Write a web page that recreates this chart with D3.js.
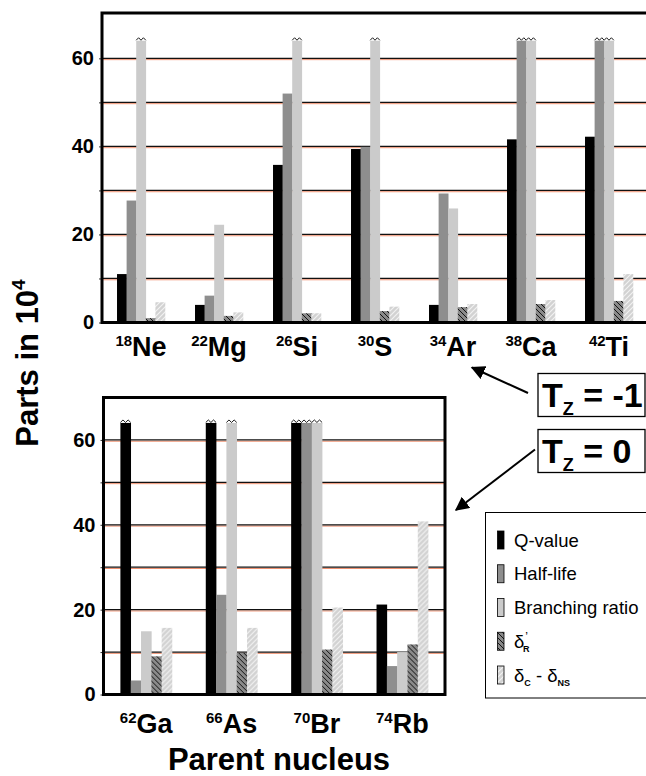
<!DOCTYPE html>
<html>
<head>
<meta charset="utf-8">
<script src="https://cdn.jsdelivr.net/npm/d3@7"></script>
<style>
body{margin:0;background:#fff;}
text{font-family:"Liberation Sans",Arial,Helvetica,sans-serif;}
</style>
</head>
<body>
<div id="chart"></div>
<script>
const WIDTH = 646;
const HEIGHT = 776;

// bars above the axis break are drawn cut off with a jagged top
const OFF = 99;
const BREAK = 64;

const seriesKeys = ["q","hl","br","dr","dc"];
const seriesColors = ["#000000","#8e8e8e","#cbcbcb","url(#hatchR)","url(#hatchC)"];

const topMass = ["18","22","26","30","34","38","42"];
const topElements = ["Ne","Mg","Si","S","Ar","Ca","Ti"];
const topQ  = [11.0, 4.0, 35.8, 39.4, 4.0, 41.6, 42.2];
const topHL = [27.7, 6.1, 52.0, 39.9, 29.3, OFF, OFF];
const topBR = [OFF, 22.2, OFF, OFF, 25.9, OFF, OFF];
const topDR = [1.0, 1.5, 2.1, 2.6, 3.5, 4.2, 4.9];
const topDC = [4.6, 2.3, 2.1, 3.6, 4.2, 5.1, 11.0];

const bottomMass = ["62","66","70","74"];
const bottomElements = ["Ga","As","Br","Rb"];
const bottomQ  = [OFF, OFF, OFF, 21.2];
const bottomHL = [3.3, 23.5, OFF, 6.7];
const bottomBR = [14.9, OFF, OFF, 10.0];
const bottomDR = [9.0, 9.8, 10.6, 11.8];
const bottomDC = [15.7, 15.7, 20.5, 40.8];

const yTicks = [0,10,20,30,40,50,60];
const yLabels = [0,20,40,60];

function setup(){
    let svg = d3.select("#chart")
        .append("svg")
        .attr("width",WIDTH)
        .attr("height",HEIGHT);

    let defs = svg.append("defs");
    let pr = defs.append("pattern")
        .attr("id","hatchR")
        .attr("patternUnits","userSpaceOnUse")
        .attr("width",5).attr("height",5);
    pr.append("rect").attr("width",5).attr("height",5).attr("fill","#8a8a8a");
    pr.append("path")
        .attr("d","M0,0L5,5M-1,4L1,6M4,-1L6,1")
        .attr("stroke","#111").attr("stroke-width",1);
    let pc = defs.append("pattern")
        .attr("id","hatchC")
        .attr("patternUnits","userSpaceOnUse")
        .attr("width",5).attr("height",5);
    pc.append("rect").attr("width",5).attr("height",5).attr("fill","#d2d2d2");
    pc.append("path")
        .attr("d","M0,5L5,0M-1,1L1,-1M4,6L6,4")
        .attr("stroke","#f2f2f2").attr("stroke-width",1.2);
    defs.append("marker")
        .attr("id","arrow")
        .attr("viewBox","0 0 10 10")
        .attr("refX",9).attr("refY",5)
        .attr("markerWidth",7).attr("markerHeight",7)
        .attr("markerUnits","strokeWidth")
        .attr("orient","auto")
        .append("path")
        .attr("d","M0,0L10,5L0,10z")
        .attr("fill","#000");

    main(svg);
}

function drawPanel(svg,box,yMax,mass,elements,rows,labelY){
    let data = mass.map((m,i)=>{
        let d = {id:m+elements[i],mass:m,el:elements[i]};
        seriesKeys.forEach((k,j)=>{ d[k] = rows[j][i]; });
        return d;
    });

    let x = d3.scaleBand()
        .domain(data.map(d=>d.id))
        .range([box.left,box.right])
        .paddingInner(box.pad)
        .paddingOuter(box.pad/2);
    let xs = d3.scaleBand()
        .domain(seriesKeys)
        .range([0,x.bandwidth()]);
    let y = d3.scaleLinear()
        .domain([0,yMax])
        .range([box.bottom,box.top]);

    let g = svg.append("g");

    // grid lines with the reddish shadow of the original print
    let grid = g.append("g");
    grid.selectAll(".gs")
        .data(yTicks.slice(1))
        .enter()
        .append("line")
        .attr("x1",box.left).attr("x2",box.right)
        .attr("y1",d=>y(d)+1.3).attr("y2",d=>y(d)+1.3)
        .attr("stroke","#ee9070").attr("stroke-width",1);
    grid.selectAll(".gl")
        .data(yTicks.slice(1))
        .enter()
        .append("line")
        .attr("x1",box.left).attr("x2",box.right)
        .attr("y1",d=>y(d)).attr("y2",d=>y(d))
        .attr("stroke","#111").attr("stroke-width",1.2);

    let groups = g.selectAll(".grp")
        .data(data)
        .enter()
        .append("g")
        .attr("transform",d=>`translate(${x(d.id)},0)`);

    seriesKeys.forEach((k,j)=>{
        groups.append("rect")
            .attr("x",xs(k))
            .attr("width",xs.bandwidth()+0.3)
            .attr("y",d=>y(Math.min(d[k],BREAK)))
            .attr("height",d=>box.bottom-y(Math.min(d[k],BREAK)))
            .attr("fill",seriesColors[j]);
        groups.filter(d=>d[k]>BREAK)
            .append("path")
            .attr("d",()=>{
                let x0 = xs(k), w = xs.bandwidth(), yb = y(BREAK);
                let pts = [];
                for (let t=0;t<=4;t++){
                    pts.push([x0+t*w/4, yb-(t%2===1?3:0.5)]);
                }
                return d3.line()(pts);
            })
            .attr("fill","none")
            .attr("stroke","#000")
            .attr("stroke-width",0.9);
    });

    // axis ticks and labels
    let axis = d3.axisLeft(y)
        .tickValues(yTicks)
        .tickSize(3)
        .tickPadding(5)
        .tickFormat(d=>yLabels.includes(d)?d:"");
    let ax = g.append("g")
        .attr("transform",`translate(${box.left},0)`)
        .call(axis);
    ax.select(".domain").remove();
    ax.selectAll("line").attr("stroke","#333");
    ax.selectAll("text")
        .attr("font-size",20)
        .attr("font-weight","bold")
        .attr("fill","#000")
        .attr("font-family","Liberation Sans, Arial, sans-serif");

    // frame
    g.append("path")
        .attr("d",`M${box.left},${box.bottom}V${box.top}H${box.right}V${box.bottom}Z`)
        .attr("fill","none")
        .attr("stroke","#000")
        .attr("stroke-width",3);

    // category labels
    let lab = g.selectAll(".lab")
        .data(data)
        .enter()
        .append("text")
        .attr("x",d=>x(d.id)+x.bandwidth()/2)
        .attr("y",labelY)
        .attr("text-anchor","middle")
        .attr("font-weight","bold");
    lab.append("tspan")
        .attr("font-size",15)
        .attr("dy",-10)
        .text(d=>d.mass);
    lab.append("tspan")
        .attr("font-size",27)
        .attr("dy",10)
        .text(d=>d.el);
}

function main(svg){
    drawPanel(svg,{left:102,right:648,top:13,bottom:322.5,pad:0.385},70.3,
        topMass,topElements,[topQ,topHL,topBR,topDR,topDC],356);
    drawPanel(svg,{left:103.5,right:445,top:397.5,bottom:694.5,pad:0.396},70,
        bottomMass,bottomElements,[bottomQ,bottomHL,bottomBR,bottomDR,bottomDC],733);

    // y title
    let yt = svg.append("text")
        .attr("transform","translate(38,363) rotate(-90)")
        .attr("text-anchor","middle")
        .attr("font-weight","bold")
        .attr("font-size",31);
    yt.append("tspan").text("Parts in 10");
    yt.append("tspan").attr("font-size",19).attr("dy",-13).text("4");

    // x title
    svg.append("text")
        .attr("x",279)
        .attr("y",770)
        .attr("text-anchor","middle")
        .attr("font-weight","bold")
        .attr("font-size",31)
        .text("Parent nucleus");

    // isospin boxes
    let tz = [{label:"-1",top:373.5},{label:"0",top:429.5}];
    tz.forEach(t=>{
        svg.append("rect")
            .attr("x",538).attr("y",t.top)
            .attr("width",107).attr("height",43)
            .attr("fill","#fff")
            .attr("stroke","#000")
            .attr("stroke-width",1.3);
        let tx = svg.append("text")
            .attr("x",542).attr("y",t.top+33)
            .attr("font-weight","bold")
            .attr("font-size",34);
        tx.append("tspan").text("T");
        tx.append("tspan").attr("font-size",18).attr("dy",8).text("Z");
        tx.append("tspan").attr("dy",-8).text(" = "+t.label);
    });

    svg.append("line")
        .attr("x1",528).attr("y1",393).attr("x2",472).attr("y2",367.5)
        .attr("stroke","#000").attr("stroke-width",2)
        .attr("marker-end","url(#arrow)");
    svg.append("line")
        .attr("x1",535).attr("y1",449.5).attr("x2",456).attr("y2",510)
        .attr("stroke","#000").attr("stroke-width",2)
        .attr("marker-end","url(#arrow)");

    // legend
    let lg = svg.append("g");
    lg.append("rect")
        .attr("x",485.5).attr("y",512.5)
        .attr("width",170).attr("height",185.5)
        .attr("fill","#fff")
        .attr("stroke","#000").attr("stroke-width",1);
    let legendY = d3.scalePoint()
        .domain(seriesKeys)
        .range([540,675]);
    seriesKeys.forEach((k,j)=>{
        lg.append("rect")
            .attr("x",497.5).attr("y",legendY(k)-9)
            .attr("width",6.5).attr("height",18)
            .attr("fill",seriesColors[j])
            .attr("stroke","#000").attr("stroke-width",0.8);
    });
    let ltx = (k)=>lg.append("text")
        .attr("x",514).attr("y",legendY(k)+6.5)
        .attr("font-size",18.5);
    ltx("q").text("Q-value");
    ltx("hl").text("Half-life");
    ltx("br").text("Branching ratio");
    let tR = ltx("dr");
    tR.append("tspan").text("δ");
    tR.append("tspan").attr("font-size",12).attr("dy",-7).attr("dx",1).text("’");
    tR.append("tspan").attr("font-size",9).attr("font-weight","bold").attr("dy",11).attr("dx",-5).text("R");
    let tC = ltx("dc");
    tC.append("tspan").text("δ");
    tC.append("tspan").attr("font-size",9).attr("font-weight","bold").attr("dy",4).text("C");
    tC.append("tspan").attr("dy",-4).text(" - δ");
    tC.append("tspan").attr("font-size",9).attr("font-weight","bold").attr("dy",4).text("NS");
}

window.addEventListener("load",setup);
</script>
</body>
</html>
